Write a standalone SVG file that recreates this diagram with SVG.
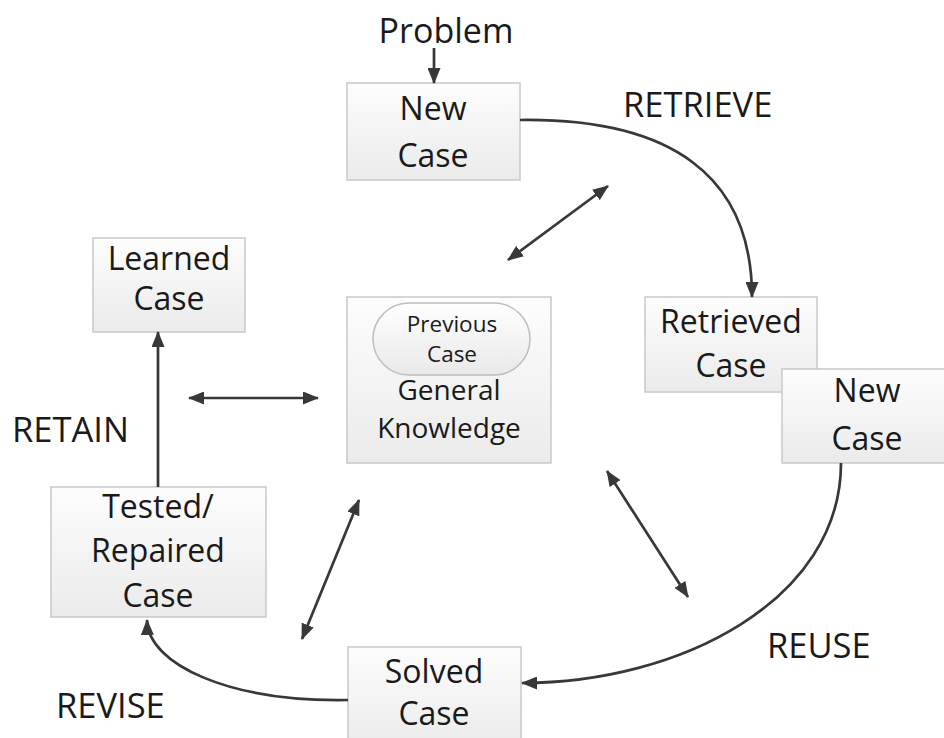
<svg xmlns="http://www.w3.org/2000/svg" width="944" height="738" viewBox="0 0 944 738">
  <defs>
    <linearGradient id="boxFill" x1="0" y1="0" x2="0" y2="1">
      <stop offset="0" stop-color="#fdfdfd"/>
      <stop offset="1" stop-color="#ebebeb"/>
    </linearGradient>
    <linearGradient id="pillFill" x1="0" y1="0" x2="0" y2="1">
      <stop offset="0" stop-color="#ffffff"/>
      <stop offset="1" stop-color="#e9e9e9"/>
    </linearGradient>
    <marker id="ah" viewBox="0 0 16 13" refX="15" refY="6.5" markerWidth="16" markerHeight="13" markerUnits="userSpaceOnUse" orient="auto-start-reverse">
      <path d="M0,0 L16,6.5 L0,13 z" fill="#383838"/>
    </marker>
    <style>
      .box { fill: url(#boxFill); stroke: #c9c9c9; stroke-width: 1.5; }
      .pill { fill: url(#pillFill); stroke: #bdbdbd; stroke-width: 1.5; }
      .t { font-family: "Open Sans", "Noto Sans", "DejaVu Sans", sans-serif; fill: #1a1a1a; text-anchor: middle; }
      .node { font-size: 32px; }
      .gk { font-size: 28px; }
      .small { font-size: 22.5px; }
      .lbl { font-family: "Open Sans", "Noto Sans", "DejaVu Sans", sans-serif; fill: #1a1a1a; font-size: 34.5px; }
      .c { fill: none; stroke: #383838; stroke-width: 2.7; }
      .one { marker-end: url(#ah); }
      .two { marker-start: url(#ah); marker-end: url(#ah); }
    </style>
  </defs>

  <rect width="944" height="738" fill="#ffffff"/>

  <!-- phase labels -->
  <text class="t lbl" x="446" y="43" style="font-size:34px">Problem</text>
  <text class="lbl" x="623" y="117">RETRIEVE</text>
  <text class="lbl" x="12" y="442">RETAIN</text>
  <text class="lbl" x="767" y="658">REUSE</text>
  <text class="lbl" x="56" y="718">REVISE</text>

  <g id="new-case">
    <rect class="box" x="347" y="83" width="173" height="97"/>
    <text class="t node" x="433" y="120">New</text>
    <text class="t node" x="433" y="167">Case</text>
  </g>

  <g id="retrieved-case">
    <rect class="box" x="645" y="297" width="172" height="95"/>
    <text class="t node" x="731" y="333">Retrieved</text>
    <text class="t node" x="731" y="377">Case</text>
  </g>

  <g id="new-case-2">
    <rect class="box" x="782" y="369" width="172" height="94"/>
    <text class="t node" x="867" y="402">New</text>
    <text class="t node" x="867" y="450">Case</text>
  </g>

  <g id="general-knowledge">
    <rect class="box" x="347" y="297" width="204" height="166"/>
    <rect class="pill" x="373" y="303" width="157" height="72" rx="36" ry="36"/>
    <text class="t small" x="452" y="332">Previous</text>
    <text class="t small" x="452" y="362">Case</text>
    <text class="t gk" x="449" y="400">General</text>
    <text class="t gk" x="449" y="438">Knowledge</text>
  </g>

  <g id="learned-case">
    <rect class="box" x="93" y="238" width="152" height="94"/>
    <text class="t node" x="169" y="270">Learned</text>
    <text class="t node" x="169" y="310">Case</text>
  </g>

  <g id="tested-repaired-case">
    <rect class="box" x="51" y="487" width="215" height="130"/>
    <text class="t node" x="158" y="518">Tested/</text>
    <text class="t node" x="158" y="562">Repaired</text>
    <text class="t node" x="158" y="607">Case</text>
  </g>

  <g id="solved-case">
    <rect class="box" x="348" y="647" width="173" height="100"/>
    <text class="t node" x="434" y="683">Solved</text>
    <text class="t node" x="434" y="725">Case</text>
  </g>

  <g id="connectors">
    <path class="c one" d="M434,48 L434,83"/>
    <path class="c one" d="M520,120 C670,118 752,175 752,297"/>
    <path class="c one" d="M841,463 C841,600 680,683 522,683"/>
    <path class="c one" d="M348,700 C230,702 148,665 147,620"/>
    <path class="c one" d="M158,487 L158,332"/>
    <path class="c two" d="M508,260 L608,186"/>
    <path class="c two" d="M189,398 L318,398"/>
    <path class="c two" d="M302,639 L359,500"/>
    <path class="c two" d="M607,471 L688,597"/>
  </g>
</svg>
